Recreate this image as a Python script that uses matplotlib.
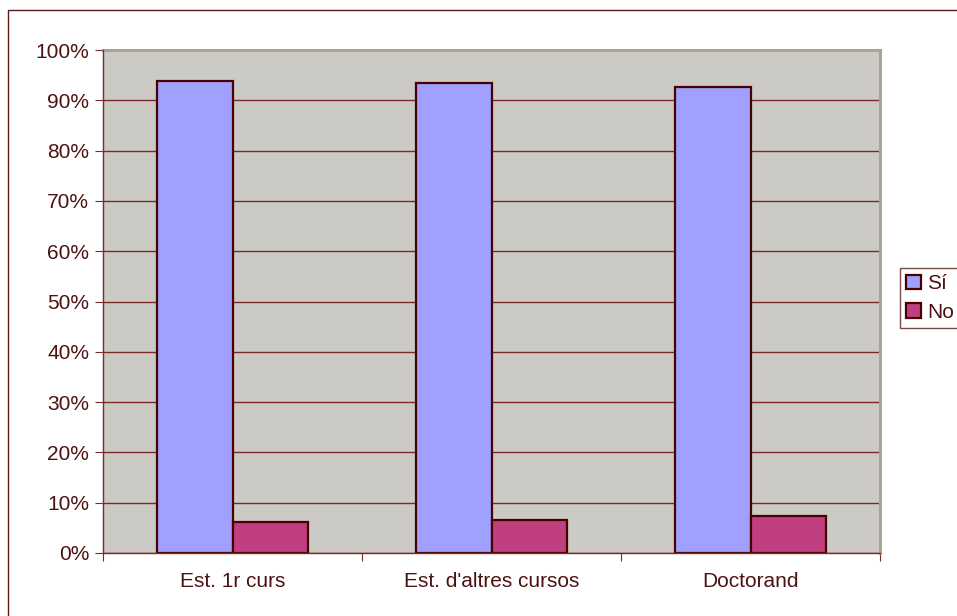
import matplotlib
matplotlib.use('Agg')
import matplotlib.pyplot as plt
import numpy as np
from matplotlib.patches import Rectangle, Patch

# Dades
categories = ['Est. 1r curs', "Est. d'altres cursos", 'Doctorand']
si_values = [93.8, 93.4, 92.6]
no_values = [6.2, 6.6, 7.4]
series_labels = ['Sí', 'No']

text_color = '#4d1212'
edge_color = '#4a0000'
grid_color = '#7a2a2a'
si_color = '#a0a0ff'
no_color = '#bf3f80'

plt.rcParams['font.family'] = ['Liberation Sans', 'DejaVu Sans']

fig = plt.figure(figsize=(9.57, 6.16), dpi=100)
W, H = 957, 616

# marc exterior (tallat a la dreta i a baix)
fig.patches.append(Rectangle((8 / W, -0.1), 1.0, 1.1 - 10 / H,
                             transform=fig.transFigure, fill=False,
                             edgecolor='#5a1a1a', linewidth=1.0))

ax = fig.add_axes([103 / W, 1 - 553 / H, 777 / W, 503 / H])
ax.set_facecolor('#cccac4')

x = np.arange(len(categories))
bw = 0.29
ax.bar(x - bw / 2, si_values, bw, color=si_color, edgecolor=edge_color,
       linewidth=1.6, zorder=3, label=series_labels[0])
ax.bar(x + bw / 2, no_values, bw, color=no_color, edgecolor=edge_color,
       linewidth=1.6, zorder=3, label=series_labels[1])

ax.set_xlim(-0.5, len(categories) - 0.5)
ax.set_ylim(0, 100)
ax.set_yticks(np.arange(0, 101, 10))
ax.set_yticklabels([f'{v}%' for v in range(0, 101, 10)])
ax.yaxis.grid(True, color=grid_color, linewidth=1.0, zorder=1)

# ticks entre categories
ax.set_xticks(np.arange(-0.5, len(categories), 1.0))
ax.set_xticklabels([])
ax.set_xticks(x, minor=True)
ax.set_xticklabels(categories, minor=True)
ax.tick_params(axis='x', which='minor', length=0, pad=14,
               labelsize=15, labelcolor=text_color)
ax.tick_params(axis='x', which='major', length=6, color=grid_color)
ax.tick_params(axis='y', length=6, color=grid_color, labelsize=15,
               labelcolor=text_color, pad=4)

for side in ['top', 'right']:
    ax.spines[side].set_color('#aaa496')
    ax.spines[side].set_linewidth(2.2)
for side in ['left', 'bottom']:
    ax.spines[side].set_color(grid_color)
    ax.spines[side].set_linewidth(1.0)
    ax.spines[side].set_zorder(4)

handles = [Patch(facecolor=si_color, edgecolor=edge_color, linewidth=1.6),
           Patch(facecolor=no_color, edgecolor=edge_color, linewidth=1.6)]
leg = fig.legend(handles, series_labels, loc='upper left',
                 bbox_to_anchor=(900 / W, 1 - 268 / H),
                 frameon=True, fancybox=False, fontsize=15,
                 handlelength=0.7, handleheight=0.7, handletextpad=0.3,
                 borderpad=0.3, labelspacing=0.45, borderaxespad=0)
leg.get_frame().set_edgecolor('#5a1a1a')
leg.get_frame().set_linewidth(1.0)
for t in leg.get_texts():
    t.set_color(text_color)

fig.savefig('out.png', dpi=100)
